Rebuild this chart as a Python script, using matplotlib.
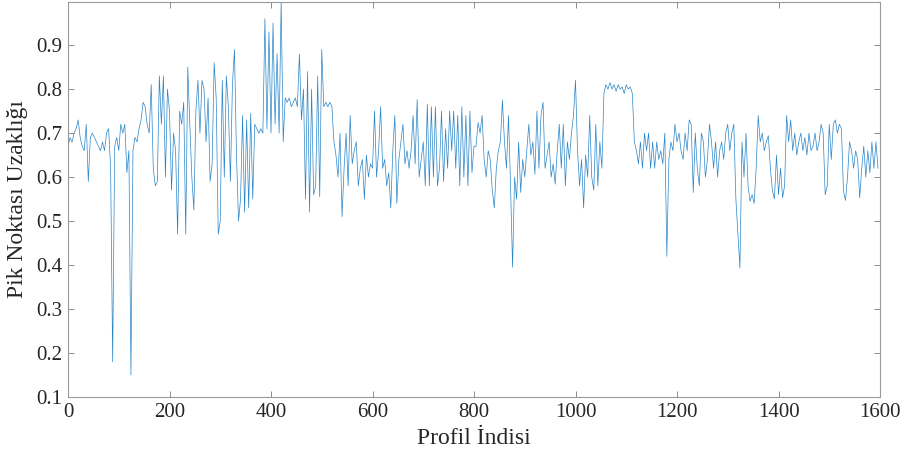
import matplotlib
matplotlib.use("Agg")
import matplotlib.pyplot as plt
import numpy as np

step = 4
values = [
    # 0-96
    0.67, 0.69, 0.68, 0.70, 0.71, 0.73, 0.69, 0.67, 0.66, 0.72, 0.59, 0.69, 0.70,
    0.69, 0.68, 0.67, 0.66, 0.68, 0.66, 0.70, 0.71, 0.62, 0.18, 0.67, 0.69,
    # 100-196
    0.66, 0.72, 0.70, 0.72, 0.61, 0.66, 0.15, 0.66, 0.69, 0.68, 0.71, 0.73, 0.77,
    0.76, 0.72, 0.70, 0.81, 0.62, 0.58, 0.59, 0.83, 0.72, 0.83, 0.60, 0.80,
    # 200-296
    0.75, 0.57, 0.70, 0.66, 0.47, 0.75, 0.72, 0.77, 0.47, 0.85, 0.72, 0.60, 0.525,
    0.75, 0.82, 0.70, 0.82, 0.80, 0.68, 0.78, 0.59, 0.63, 0.86, 0.78, 0.47,
    # 300-396
    0.50, 0.82, 0.60, 0.83, 0.76, 0.59, 0.81, 0.89, 0.65, 0.50, 0.55, 0.74, 0.52,
    0.73, 0.53, 0.745, 0.55, 0.72, 0.71, 0.70, 0.71, 0.70, 0.96, 0.71, 0.93,
    # 400-496
    0.70, 0.95, 0.72, 0.88, 0.70, 1.00, 0.68, 0.78, 0.77, 0.78, 0.76, 0.77, 0.78,
    0.76, 0.88, 0.73, 0.80, 0.55, 0.84, 0.52, 0.80, 0.56, 0.58, 0.83, 0.555,
    # 500-596
    0.89, 0.76, 0.77, 0.76, 0.77, 0.76, 0.68, 0.65, 0.60, 0.70, 0.51, 0.62, 0.70,
    0.58, 0.74, 0.63, 0.66, 0.68, 0.58, 0.62, 0.64, 0.55, 0.65, 0.60, 0.63,
    # 600-696
    0.62, 0.75, 0.60, 0.66, 0.76, 0.62, 0.64, 0.58, 0.61, 0.53, 0.66, 0.74, 0.54,
    0.64, 0.68, 0.72, 0.63, 0.66, 0.62, 0.66, 0.74, 0.63, 0.776, 0.60, 0.64,
    # 700-796
    0.68, 0.58, 0.766, 0.58, 0.76, 0.60, 0.76, 0.58, 0.62, 0.75, 0.59, 0.71, 0.62,
    0.75, 0.66, 0.75, 0.62, 0.74, 0.58, 0.76, 0.60, 0.74, 0.58, 0.75, 0.61,
    # 800-896
    0.67, 0.67, 0.724, 0.70, 0.74, 0.64, 0.60, 0.66, 0.64, 0.57, 0.53, 0.62, 0.66,
    0.68, 0.775, 0.68, 0.62, 0.74, 0.58, 0.395, 0.60, 0.55, 0.68, 0.565, 0.64,
    # 900-996
    0.60, 0.66, 0.72, 0.65, 0.68, 0.606, 0.75, 0.62, 0.74, 0.77, 0.62, 0.65, 0.68,
    0.60, 0.63, 0.584, 0.66, 0.72, 0.62, 0.72, 0.58, 0.68, 0.64, 0.70, 0.74,
    # 1000-1096
    0.82, 0.66, 0.58, 0.64, 0.53, 0.65, 0.60, 0.74, 0.60, 0.57, 0.72, 0.58, 0.68,
    0.62, 0.79, 0.81, 0.80, 0.815, 0.80, 0.81, 0.795, 0.81, 0.80, 0.805, 0.79,
    # 1100-1196
    0.81, 0.80, 0.805, 0.79, 0.68, 0.66, 0.63, 0.68, 0.62, 0.70, 0.66, 0.70, 0.62,
    0.68, 0.62, 0.68, 0.64, 0.66, 0.63, 0.70, 0.42, 0.64, 0.68, 0.66, 0.72,
    # 1200-1296
    0.68, 0.70, 0.66, 0.64, 0.70, 0.66, 0.73, 0.72, 0.565, 0.70, 0.62, 0.58, 0.70,
    0.68, 0.60, 0.64, 0.72, 0.68, 0.62, 0.68, 0.60, 0.66, 0.68, 0.64, 0.70,
    # 1300-1396
    0.72, 0.66, 0.70, 0.72, 0.55, 0.47, 0.393, 0.68, 0.60, 0.70, 0.58, 0.545, 0.56,
    0.54, 0.62, 0.74, 0.68, 0.70, 0.66, 0.68, 0.694, 0.62, 0.57, 0.55, 0.65,
    # 1400-1496
    0.56, 0.62, 0.553, 0.58, 0.74, 0.68, 0.73, 0.66, 0.70, 0.65, 0.68, 0.70, 0.66,
    0.69, 0.65, 0.70, 0.66, 0.67, 0.70, 0.66, 0.68, 0.72, 0.70, 0.56, 0.58,
    # 1500-1596
    0.72, 0.64, 0.72, 0.73, 0.70, 0.72, 0.71, 0.568, 0.547, 0.60, 0.68, 0.66, 0.62,
    0.66, 0.64, 0.553, 0.62, 0.67, 0.60, 0.66, 0.61, 0.68, 0.62, 0.68, 0.62,
]
profile_index = np.arange(len(values)) * step

x_ticks = [0, 200, 400, 600, 800, 1000, 1200, 1400, 1600]
y_ticks = [0.1, 0.2, 0.3, 0.4, 0.5, 0.6, 0.7, 0.8, 0.9]
x_label = "Profil İndisi"
y_label = "Pik Noktası Uzaklığı"

plt.rcParams['font.family'] = ['Liberation Serif', 'DejaVu Serif']

fig = plt.figure(figsize=(9.06, 4.59), dpi=100)
ax = fig.add_axes([68/906, 1 - 397/459, (880 - 68)/906, (397 - 2)/459])
ax.plot(profile_index, values, color='#2a85c8', lw=0.5)

ax.set_xlim(0, 1600)
ax.set_ylim(0.1, 0.998)
ax.set_xticks(x_ticks)
ax.set_yticks(y_ticks)
ax.set_xticklabels([str(t) for t in x_ticks])
ax.set_yticklabels([f"{t:.1f}" for t in y_ticks])
ax.tick_params(direction='in', length=4, width=0.6, color='#7a7a7a',
               top=True, right=True, labelsize=15, pad=4, labelcolor='#262626')
for s in ax.spines.values():
    s.set_color('#9a9a9a')
    s.set_linewidth(0.8)
ax.set_xlabel(x_label, fontsize=17, color='#262626', labelpad=5)
ax.set_ylabel(y_label, fontsize=17, color='#262626', labelpad=6)

fig.savefig("out.png", dpi=100)
